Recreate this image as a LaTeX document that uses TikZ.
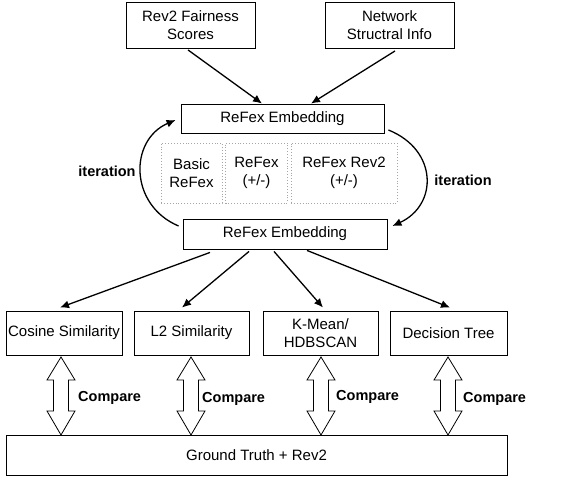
\documentclass[tikz,border=0pt]{standalone}
\usepackage{fontspec}
\setmainfont{Liberation Sans}
\usetikzlibrary{arrows.meta}
\begin{document}
\begin{tikzpicture}[x=1pt,y=-1pt,
  box/.style={draw, line width=0.9pt, inner sep=0pt, align=center, font=\fontsize{15}{18}\selectfont},
  dbox/.style={draw=gray!70, dotted, line width=0.9pt, inner sep=0pt, align=center, font=\fontsize{15}{18}\selectfont},
  lbl/.style={font=\fontsize{14.5}{17.5}\selectfont\bfseries, inner sep=0pt},
  arr/.style={line width=1.3pt, -{Latex[length=9pt,width=8pt]}},
  dbl/.style={draw, line width=0.8pt, fill=white}]
\useasboundingbox (0,0) rectangle (580,476);
% top inputs
\node[box, minimum width=129, minimum height=46] (rev) at (190.5,25.5) {Rev2 Fairness\\Scores};
\node[box, minimum width=129, minimum height=46] (net) at (389.5,25.5) {Network\\Structral Info};
% embeddings
\node[box, minimum width=203, minimum height=29] (emb1) at (282.5,118.5) {ReFex Embedding};
\node[box, minimum width=204, minimum height=30] (emb2) at (285,234) {ReFex Embedding};
% dotted boxes
\node[dbox, minimum width=61, minimum height=60] (d1) at (191.5,173) {Basic\\ReFex};
\node[dbox, minimum width=62, minimum height=60] (d2) at (256.5,173) {ReFex\\(+/-)};
\node[dbox, minimum width=106, minimum height=60] (d3) at (344,173) {ReFex Rev2\\(+/-)};
% arrows into top embedding
\draw[arr] ([xshift=-2.5pt,yshift=-1pt]rev.south) -- ([xshift=-20.5pt]emb1.north);
\draw[arr] ([xshift=5.5pt,yshift=-2pt]net.south) -- ([xshift=28.5pt]emb1.north);
% iteration arcs
\draw[arr] ([xshift=-4pt,yshift=8pt]emb2.west) .. controls (129,205) and (129,140) .. ([xshift=-5pt,yshift=-1.5pt]emb1.west);
\draw[arr] ([xshift=4pt,yshift=-11.5pt]emb1.east) .. controls (438,150) and (438,205) .. ([xshift=5pt,yshift=8pt]emb2.east);
\node[lbl] (it1) at (107,171) {iteration};
\node[lbl] (it2) at (463,180) {iteration};
% method boxes
\node[box, minimum width=116, minimum height=44] (cos) at (64,333) {Cosine Similarity};
\node[box, minimum width=115, minimum height=44] (l2) at (191.5,333) {L2 Similarity};
\node[box, minimum width=115, minimum height=44] (km) at (320.5,333) {K-Mean/\\HDBSCAN};
\node[box, minimum width=117, minimum height=44] (dt) at (448.5,333) {Decision Tree};
% arrows from bottom embedding
\draw[arr] ([xshift=-75pt,yshift=-3pt]emb2.south) -- ([xshift=-4pt,yshift=3pt]cos.north);
\draw[arr] ([xshift=-36pt,yshift=-2pt]emb2.south) -- ([xshift=-9.5pt,yshift=3pt]l2.north);
\draw[arr] ([xshift=-11pt,yshift=-2pt]emb2.south) -- ([xshift=2.5pt,yshift=3pt]km.north);
\draw[arr] ([xshift=22pt,yshift=-1pt]emb2.south) -- ([xshift=1.5pt,yshift=3pt]dt.north);
% ground truth
\node[box, minimum width=501, minimum height=40] (gt) at (256.5,455) {Ground Truth + Rev2};
% double arrows
\foreach \cx in {61,191,321,448}{
  \draw[dbl] (\cx,357) -- (\cx+14,380) -- (\cx+7.5,380) -- (\cx+7.5,411) -- (\cx+14,411) -- (\cx,435)
    -- (\cx-14,411) -- (\cx-7.5,411) -- (\cx-7.5,380) -- (\cx-14,380) -- cycle;
}
\node[lbl, anchor=west] (c1) at (78,398) {Compare};
\node[lbl, anchor=west] (c2) at (202,399) {Compare};
\node[lbl, anchor=west] (c3) at (336,397) {Compare};
\node[lbl, anchor=west] (c4) at (463,399) {Compare};
\end{tikzpicture}
\end{document}
